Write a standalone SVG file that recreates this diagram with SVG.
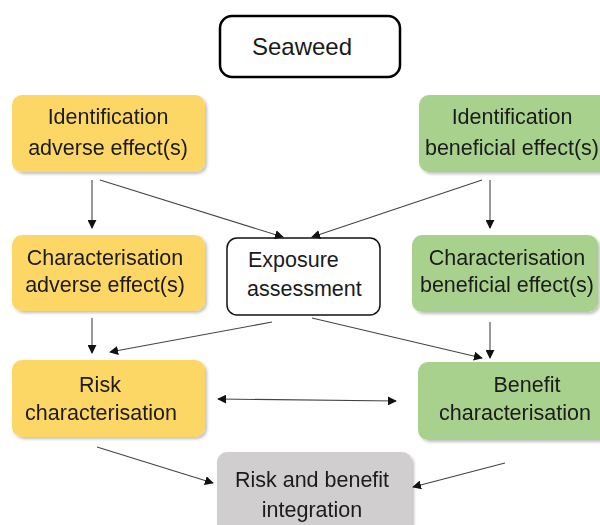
<svg xmlns="http://www.w3.org/2000/svg" width="600" height="525" viewBox="0 0 600 525">
<style>
text{font-family:"Liberation Sans",Arial,sans-serif;font-size:21.5px;fill:#1a1a1a;text-anchor:middle}
.y{fill:#FDD766}
.g{fill:#A9D18E}
.gr{fill:#D0CECE}
.c{stroke:#444;stroke-width:1.1;fill:none;marker-end:url(#ah)}
</style>
<defs>
<marker id="ah" viewBox="0 0 10 10" refX="9" refY="5" markerWidth="9" markerHeight="9" markerUnits="userSpaceOnUse" orient="auto-start-reverse">
<path d="M0,0 L10,5 L0,10 z" fill="#111"/>
</marker>
<filter id="sh" x="-10%" y="-10%" width="130%" height="130%">
<feDropShadow dx="2" dy="2" stdDeviation="1.5" flood-color="#000" flood-opacity="0.25"/>
</filter>
</defs>
<rect width="600" height="525" fill="#fff"/>
<g id="seaweed">
<rect x="220" y="16" width="180" height="61" rx="12" fill="#fff" stroke="#000" stroke-width="2.5"/>
<text x="302" y="55" style="font-size:24px">Seaweed</text>
</g>
<g id="id-adverse" filter="url(#sh)">
<rect class="y" x="12" y="95" width="193" height="77" rx="10"/>
<text x="108" y="124">Identification</text>
<text x="108" y="155">adverse effect(s)</text>
</g>
<g id="id-beneficial" filter="url(#sh)">
<rect class="g" x="419" y="95" width="195" height="77" rx="10"/>
<text x="512" y="124">Identification</text>
<text x="512" y="155">beneficial effect(s)</text>
</g>
<g id="char-adverse" filter="url(#sh)">
<rect class="y" x="12" y="235" width="193" height="76" rx="10"/>
<text x="105" y="265">Characterisation</text>
<text x="105" y="292">adverse effect(s)</text>
</g>
<g id="exposure">
<rect x="227" y="238" width="153" height="77" rx="10" fill="#fff" stroke="#111" stroke-width="1.5"/>
<text x="248" y="267" style="text-anchor:start">Exposure</text>
<text x="247" y="296" style="text-anchor:start">assessment</text>
</g>
<g id="char-beneficial" filter="url(#sh)">
<rect class="g" x="412" y="235" width="186" height="77" rx="10"/>
<text x="507" y="265">Characterisation</text>
<text x="507" y="292">beneficial effect(s)</text>
</g>
<g id="risk" filter="url(#sh)">
<rect class="y" x="12" y="360" width="193" height="77" rx="10"/>
<text x="100" y="392">Risk</text>
<text x="101" y="420">characterisation</text>
</g>
<g id="benefit" filter="url(#sh)">
<rect class="g" x="418" y="362" width="196" height="78" rx="10"/>
<text x="527" y="392">Benefit</text>
<text x="515" y="420">characterisation</text>
</g>
<g id="integration" filter="url(#sh)">
<rect class="gr" x="217" y="452" width="195" height="90" rx="10"/>
<text x="312" y="487">Risk and benefit</text>
<text x="312" y="517">integration</text>
</g>
<g id="connectors">
<line class="c" x1="92" y1="180" x2="92" y2="228"/>
<line class="c" x1="100" y1="180" x2="283" y2="237"/>
<line class="c" x1="482" y1="180" x2="312" y2="237"/>
<line class="c" x1="490" y1="180" x2="490" y2="228"/>
<line class="c" x1="92" y1="318" x2="92" y2="353"/>
<line class="c" x1="272" y1="322" x2="110" y2="352"/>
<line class="c" x1="312" y1="318" x2="482" y2="358"/>
<line class="c" x1="490" y1="322" x2="490" y2="358"/>
<line class="c" x1="218" y1="399" x2="396" y2="401" style="marker-start:url(#ah)"/>
<line class="c" x1="97" y1="447" x2="213" y2="483"/>
<line class="c" x1="505" y1="463" x2="413" y2="487"/>
</g>
</svg>
